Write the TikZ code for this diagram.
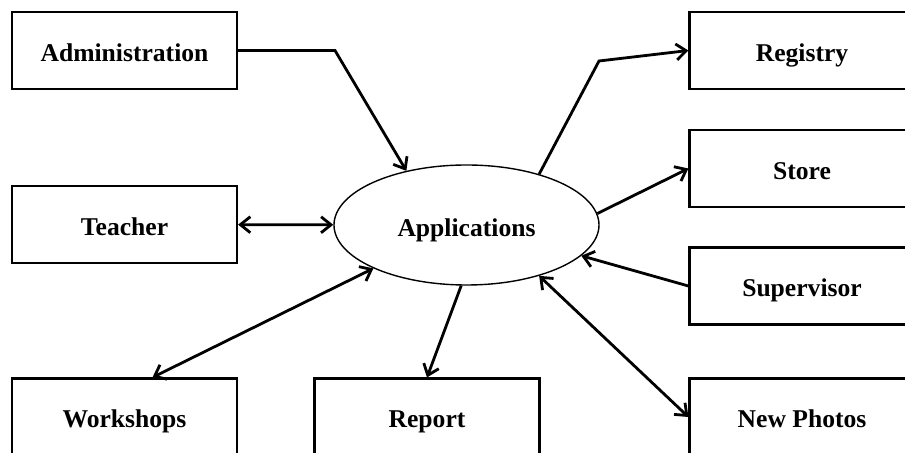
\documentclass[tikz,border=0pt]{standalone}
\usepackage{fontspec}
\setmainfont{Liberation Serif}
\usetikzlibrary{shapes.geometric,arrows.meta}

\tikzset{
  unit/.style={draw, line width=1.1pt, minimum width=112.5pt, minimum height=38.5pt,
               text height=12pt, text depth=1pt,
               font=\fontsize{12.8}{15}\selectfont\bfseries},
  hub/.style={ellipse, draw, line width=0.7pt, minimum width=132.5pt, minimum height=60pt,
              text height=12pt, text depth=0pt,
              font=\fontsize{12.8}{15}\selectfont\bfseries},
  flow/.style={-{Straight Barb[length=5pt,width=8pt]}, line width=1.4pt},
  both/.style={{Straight Barb[length=5pt,width=8pt]}-{Straight Barb[length=5pt,width=8pt]}, line width=1.4pt}
}

\begin{document}
\begin{tikzpicture}[x=0.5pt,y=-0.5pt]
        \clip (0,0) rectangle (905,453);

        \node (app)      [hub]  at (466.5,225) {Applications};

        \node (admin)    [unit] at (124.5,50.5) {Administration};
        \node (teacher)  [unit] at (124.5,224.5) {Teacher};
        \node (shops)    [unit] at (124.5,417) {Workshops};
        \node (report)   [unit] at (427,417) {Report};

        \node (registry) [unit] at (802,50.5) {Registry};
        \node (store)    [unit] at (802,168.5) {Store};
        \node (super)    [unit] at (802,286) {Supervisor};
        \node (photos)   [unit] at (802,417) {New Photos};

        \coordinate (kinkA) at (335,50.5);
        \coordinate (kinkR) at (599,61);

        \draw [flow] (admin) -- (kinkA) -- (app.138);
        \draw [both] (teacher) -- (app);
        \draw [both] (app.-155) -- ([xshift=14pt]shops.north);
        \draw [flow] (app.-95) -- (report.north);

        \draw [flow] (app.35) -- (kinkR) -- (registry.west);
        \draw [flow] (app.5) -- (store.west);
        \draw [flow] (super.west) -- (app.-15);
        \draw [both] (app.-35) -- (photos.west);
      \end{tikzpicture}
\end{document}
